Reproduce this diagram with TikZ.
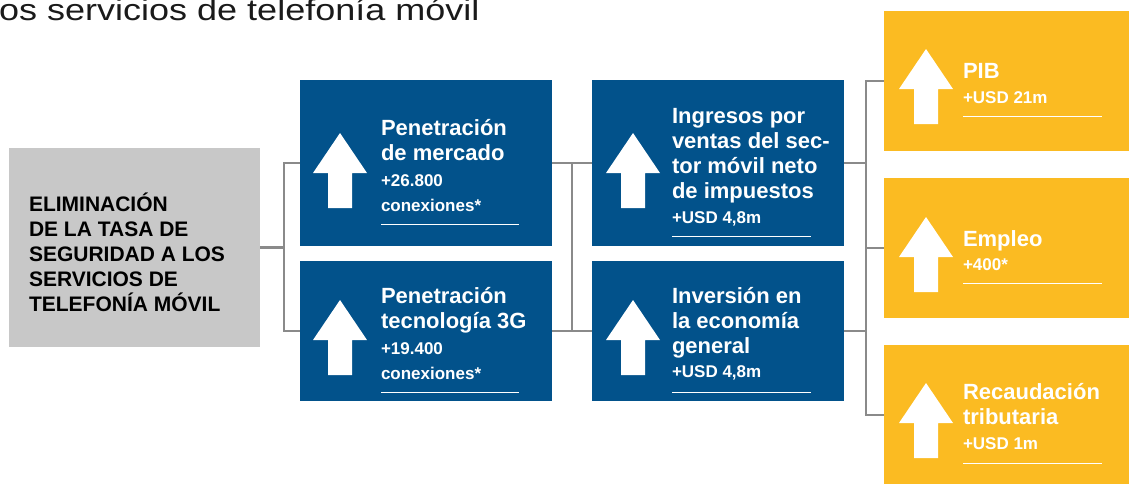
\documentclass[tikz,border=0pt]{standalone}
\usepackage{graphicx}
\usepackage{fontspec}
\setmainfont{Liberation Sans}
\usetikzlibrary{calc}
\definecolor{bluebox}{HTML}{02528B}
\definecolor{yellowbox}{HTML}{FBBB22}
\definecolor{greybox}{HTML}{C8C8C8}
\definecolor{connline}{HTML}{8A8A8A}
\definecolor{titletext}{HTML}{1A1A1A}
\tikzset{
  boxbase/.style={rectangle, inner sep=0, outer sep=0, draw=none},
  bluecard/.style={boxbase, fill=bluebox, minimum width=252pt},
  yellowcard/.style={boxbase, fill=yellowbox, minimum width=270pt, minimum height=140pt},
  greycard/.style={boxbase, fill=greybox, minimum width=251pt, minimum height=199pt},
  conn/.style={draw=connline, line width=2.6pt},
  txt/.style={anchor=base west, inner sep=0, outer sep=0, text=white, font=\bfseries},
  uline/.style={draw=white, line width=1pt},
  uparrow/.pic={\fill[white] (0,0) -- (27,40) -- (12,40) -- (12,75) -- (-12,75) -- (-12,40) -- (-27,40) -- cycle;}
}
\newcommand{\mybig}{\fontsize{22}{25.5}\selectfont}
\newcommand{\mysmall}{\fontsize{17}{25.5}\selectfont}
\begin{document}
\begin{tikzpicture}[x=1pt,y=-1pt]
\useasboundingbox (0,0) rectangle (1129,483);
\clip (0,0) rectangle (1129,483);

% title
\node[anchor=base west, inner sep=0, text=titletext, font=\fontsize{30}{36}\selectfont] (title) at (-1,20) {\scalebox{1.2}[1]{os servicios de telefonía móvil}};

% boxes
\node[greycard] (g) at (134.5,247.5) {};
\node[bluecard, minimum height=166pt] (b1) at (426,163) {};
\node[bluecard, minimum height=140pt] (b2) at (426,331) {};
\node[bluecard, minimum height=166pt] (b3) at (718,163) {};
\node[bluecard, minimum height=140pt] (b4) at (718,331) {};
\node[yellowcard] (y1) at (1019,81) {};
\node[yellowcard] (y2) at (1019,248) {};
\node[yellowcard] (y3) at (1019,415) {};

% junction coordinates
\coordinate (j1) at (284,247.5);
\coordinate (j2) at (572,247.5);
\coordinate (j3) at (866,247.5);

% connectors
\draw[conn] (g.east) -- (j1);
\draw[conn, line join=miter] (b1.west) -| (j1) |- (b2.west);
\draw[conn] (b1.east) -- (b3.west);
\draw[conn] (b2.east) -- (b4.west);
\draw[conn] (b1.east -| j2) -- (b2.east -| j2);
\draw[conn] (b3.east) -- (b3.east -| j3);
\draw[conn] (b4.east) -- (b4.east -| j3);
\draw[conn, line join=miter] (y1.west) -- (y1.west -| j3) -- (y3.west -| j3) -- (y3.west);
\draw[conn] (y2.west -| j3) -- (y2.west);

% arrows
\pic at (340,133) {uparrow};
\pic at (340,300) {uparrow};
\pic at (633,133) {uparrow};
\pic at (633,300) {uparrow};
\pic at (926,49) {uparrow};
\pic at (926,217) {uparrow};
\pic at (926,383) {uparrow};

% grey text
\node[txt, text=black] (gt) at (29,211) {\parbox[t]{240pt}{\raggedright\fontsize{21}{25}\selectfont ELIMINACIÓN\\DE LA TASA DE\\SEGURIDAD A LOS\\SERVICIOS DE\\TELEFONÍA MÓVIL}};

% blue texts
\node[txt] (t1) at (381,135) {\parbox[t]{200pt}{\raggedright\mybig Penetración\\de mercado\\\mysmall +26.800\\conexiones*}};
\draw[uline] (381,224) -- (519,224);
\node[txt] (t2) at (381,303) {\parbox[t]{200pt}{\raggedright\mybig Penetración\\tecnología 3G\\\mysmall +19.400\\conexiones*}};
\draw[uline] (381,392) -- (519,392);
\node[txt] (t3) at (672,123) {\parbox[t]{200pt}{\raggedright\fontsize{22}{25}\selectfont Ingresos por\\ventas del sec-\\tor móvil neto\\de impuestos\\\fontsize{17}{25}\selectfont +USD 4,8m}};
\draw[uline] (672,236) -- (811,236);
\node[txt] (t4) at (672,303) {\parbox[t]{200pt}{\raggedright\fontsize{22}{25}\selectfont Inversión en\\la economía\\general\\[-1pt]\fontsize{17}{25}\selectfont +USD 4,8m}};
\draw[uline] (672,392) -- (811,392);

% yellow texts
\node[txt] (t5) at (963,78) {\parbox[t]{200pt}{\raggedright\fontsize{22}{25}\selectfont PIB\\\fontsize{17}{25}\selectfont +USD 21m}};
\draw[uline] (963,116) -- (1102,116);
\node[txt] (t6) at (963,246) {\parbox[t]{200pt}{\raggedright\fontsize{22}{24}\selectfont Empleo\\\fontsize{17}{24}\selectfont +400*}};
\draw[uline] (963,283) -- (1102,283);
\node[txt] (t7) at (963,399) {\parbox[t]{200pt}{\raggedright\fontsize{22}{25}\selectfont Recaudación\\tributaria\\\fontsize{17}{25}\selectfont +USD 1m}};
\draw[uline] (963,463) -- (1102,463);
\end{tikzpicture}
\end{document}
